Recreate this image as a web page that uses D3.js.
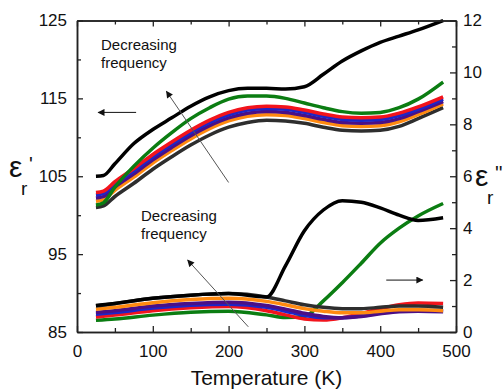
<!DOCTYPE html>
<html><head><meta charset="utf-8">
<script src="https://cdn.jsdelivr.net/npm/d3@7"></script>
<style>body{margin:0;background:#fff}svg{display:block}text{font-family:"Liberation Sans",Arial,sans-serif;fill:#111}</style>
</head><body>
<svg id="c" width="504" height="389"></svg>
<script>
// Upper group (ε', left axis)
const tempsUpper = [25, 35, 50, 75, 100, 125, 150, 175, 200, 225, 250, 275, 300, 325, 350, 375, 400, 425, 450, 483];
const upperBlack  = [105.0, 105.1, 106.6, 109.2, 111.0, 112.5, 114.0, 115.2, 116.0, 116.3, 116.3, 116.2, 116.5, 118.1, 119.8, 121.1, 122.2, 123.0, 123.8, 125.0];
const upperGreen  = [101.3, 101.6, 103.6, 106.3, 108.6, 110.6, 112.4, 113.8, 114.9, 115.3, 115.3, 115.0, 114.4, 113.8, 113.3, 113.1, 113.2, 113.8, 114.9, 117.1];
const upperRed    = [102.9, 103.1, 104.3, 106.0, 107.8, 109.4, 110.9, 112.2, 113.2, 113.8, 114.0, 113.9, 113.5, 113.0, 112.6, 112.5, 112.6, 113.1, 113.9, 115.2];
const upperBlue   = [102.6, 102.8, 104.0, 105.7, 107.5, 109.1, 110.6, 111.9, 112.9, 113.5, 113.7, 113.6, 113.2, 112.7, 112.3, 112.2, 112.3, 112.8, 113.6, 114.9];
const upperPurple = [102.2, 102.4, 103.6, 105.3, 107.1, 108.7, 110.2, 111.5, 112.5, 113.1, 113.3, 113.2, 112.8, 112.3, 111.9, 111.8, 111.9, 112.4, 113.3, 114.6];
const upperOrange = [101.8, 102.0, 103.2, 104.9, 106.7, 108.3, 109.8, 111.1, 112.1, 112.7, 112.9, 112.8, 112.4, 111.9, 111.5, 111.4, 111.5, 112.0, 112.9, 114.3];
const upperGray   = [101.0, 101.2, 102.4, 104.1, 105.9, 107.5, 109.0, 110.3, 111.3, 111.9, 112.2, 112.1, 111.8, 111.3, 110.9, 110.8, 110.9, 111.4, 112.4, 113.8];

// Lower group (ε'', right axis)
const tempsLower = [25, 50, 100, 150, 200, 250, 275, 300, 325, 350, 375, 400, 425, 450, 483];
const lowerGray   = [1.00, 1.10, 1.30, 1.42, 1.48, 1.35, 1.20, 1.05, 0.95, 0.90, 0.90, 0.95, 1.00, 1.00, 0.95];
const lowerOrange = [0.88, 0.95, 1.13, 1.25, 1.30, 1.18, 1.05, 0.90, 0.80, 0.74, 0.74, 0.80, 0.86, 0.86, 0.82];
const lowerPurple = [0.75, 0.82, 1.00, 1.10, 1.15, 1.02, 0.88, 0.72, 0.60, 0.55, 0.60, 0.70, 0.78, 0.80, 0.78];
const lowerBlue   = [0.68, 0.75, 0.92, 1.03, 1.07, 0.95, 0.80, 0.64, 0.55, 0.55, 0.62, 0.74, 0.82, 0.84, 0.82];
const lowerRed    = [0.58, 0.65, 0.82, 0.93, 0.98, 0.82, 0.66, 0.50, 0.46, 0.55, 0.72, 0.90, 1.05, 1.12, 1.10];
const lowerGreen  = [0.45, 0.50, 0.65, 0.76, 0.80, 0.66, 0.56, 0.60, 1.20, 1.90, 2.65, 3.42, 4.00, 4.47, 4.95];
const lowerBlack  = [1.02, 1.10, 1.30, 1.42, 1.48, 1.35, 2.55, 3.90, 4.70, 5.06, 5.00, 4.78, 4.50, 4.30, 4.40];

const xTicks = [0, 100, 200, 300, 400, 500];
const leftTicks = [85, 95, 105, 115, 125];
const rightTicks = [0, 2, 4, 6, 8, 10, 12];
const annotation = ["Decreasing", "frequency"];

const colors = {black:"#000000", green:"#0b7d12", red:"#f2141c", blue:"#1c25c8", purple:"#4b0f86", orange:"#ff8a10", gray:"#2e2e2e"};

const upperSeries = [
  {c:"gray", v:upperGray},{c:"orange", v:upperOrange},{c:"purple", v:upperPurple},
  {c:"blue", v:upperBlue},{c:"red", v:upperRed},{c:"green", v:upperGreen},{c:"black", v:upperBlack}];
const lowerSeries = [
  {c:"green", v:lowerGreen},{c:"red", v:lowerRed},{c:"blue", v:lowerBlue},{c:"purple", v:lowerPurple},
  {c:"orange", v:lowerOrange},{c:"gray", v:lowerGray},{c:"black", v:lowerBlack}];

const svg = d3.select("#c");
const L = 77, R = 456, T = 20.5, B = 332;
const x = d3.scaleLinear().domain([0, 500]).range([L, R]);
const yL = d3.scaleLinear().domain([85, 125]).range([B, T]);
const yR = d3.scaleLinear().domain([0, 12]).range([B, T]);

const defs = svg.append("defs");
defs.append("marker").attr("id","ah").attr("viewBox","0 0 10 10").attr("refX",9).attr("refY",5)
  .attr("markerWidth",9).attr("markerHeight",7).attr("orient","auto").attr("markerUnits","userSpaceOnUse")
  .append("path").attr("d","M0,0 L10,5 L0,10 z").attr("fill","#111");

const clip = defs.append("clipPath").attr("id","pc");
clip.append("rect").attr("x",L).attr("y",T-2).attr("width",R-L).attr("height",B-T+2);

const g = svg.append("g").attr("clip-path","url(#pc)");
const lineU = d3.line().x((d,i)=>x(tempsUpper[i])).y(d=>yL(d)).curve(d3.curveMonotoneX);
const lineD = d3.line().x((d,i)=>x(tempsLower[i])).y(d=>yR(d)).curve(d3.curveMonotoneX);

g.selectAll(".u").data(upperSeries).join("path").attr("d",d=>lineU(d.v))
  .attr("fill","none").attr("stroke",d=>colors[d.c]).attr("stroke-width",3.5).attr("stroke-linejoin","round");
g.selectAll(".d").data(lowerSeries).join("path").attr("d",d=>lineD(d.v))
  .attr("fill","none").attr("stroke",d=>colors[d.c]).attr("stroke-width",3.5).attr("stroke-linejoin","round");

// axes
function style(sel){
  sel.select(".domain").attr("stroke","#222").attr("stroke-width",1.5);
  sel.selectAll(".tick line").attr("stroke","#222").attr("stroke-width",1.3);
  sel.selectAll("text").attr("font-size",17).attr("fill","#111").style("font-family","'Liberation Sans',Arial,sans-serif");
}
const minorX = d3.range(50, 500, 100);
svg.append("g").attr("transform",`translate(0,${B})`)
  .call(d3.axisBottom(x).tickValues(xTicks).tickSize(-6).tickSizeOuter(0).tickPadding(13)).call(style);
svg.append("g").attr("transform",`translate(0,${B})`)
  .call(d3.axisBottom(x).tickValues(minorX).tickSize(-4).tickFormat("").tickSizeOuter(0)).call(style);
svg.append("g").attr("transform",`translate(0,${T})`)
  .call(d3.axisTop(x).tickValues(xTicks).tickSize(-6).tickFormat("").tickSizeOuter(0)).call(style);
svg.append("g").attr("transform",`translate(0,${T})`)
  .call(d3.axisTop(x).tickValues(minorX).tickSize(-4).tickFormat("").tickSizeOuter(0)).call(style);

svg.append("g").attr("transform",`translate(${L},0)`)
  .call(d3.axisLeft(yL).tickValues(leftTicks).tickSize(-6).tickSizeOuter(0).tickPadding(10)).call(style);
svg.append("g").attr("transform",`translate(${L},0)`)
  .call(d3.axisLeft(yL).tickValues([90,100,110,120]).tickSize(-4).tickFormat("").tickSizeOuter(0)).call(style);

svg.append("g").attr("transform",`translate(${R},0)`)
  .call(d3.axisRight(yR).tickValues(rightTicks).tickSize(-6).tickSizeOuter(0).tickPadding(7)).call(style);
svg.append("g").attr("transform",`translate(${R},0)`)
  .call(d3.axisRight(yR).tickValues([1,3,5,7,9,11]).tickSize(-4).tickFormat("").tickSizeOuter(0)).call(style);

// axis titles
svg.append("text").attr("x",x(250)).attr("y",385).attr("text-anchor","middle").attr("font-size",21).text("Temperature (K)");

function epsLabel(x0, y0, primes){
  const t = svg.append("text");
  t.append("tspan").attr("x",x0).attr("y",y0).attr("font-size",30).text("ε");
  t.append("tspan").attr("x",x0+20).attr("y",y0-6).attr("font-size",20).text(primes);
  t.append("tspan").attr("x",x0+12).attr("y",y0+18).attr("font-size",19).text("r");
}
epsLabel(9, 177, "'");
epsLabel(475, 186, "''");

// annotations
function note(xp, yp){
  const t = svg.append("text").attr("font-size",15);
  annotation.forEach((s,i)=>t.append("tspan").attr("x",xp).attr("y",yp+i*18).text(s));
}
note(101, 50);
note(141, 221);
function arrow(x1,y1,x2,y2,col){
  svg.append("line").attr("x1",x1).attr("y1",y1).attr("x2",x2).attr("y2",y2)
    .attr("stroke",col).attr("stroke-width",1).attr("marker-end","url(#ah)");
}
arrow(x(200), yL(104.2), x(118), yL(115.9), "#555");
arrow(x(226), yR(0.2), x(146), yR(2.77), "#555");
arrow(x(78), yL(113.2), x(28), yL(113.2), "#111");
arrow(x(408), yR(2.0), x(456), yR(2.0), "#111");
</script>
</body></html>
